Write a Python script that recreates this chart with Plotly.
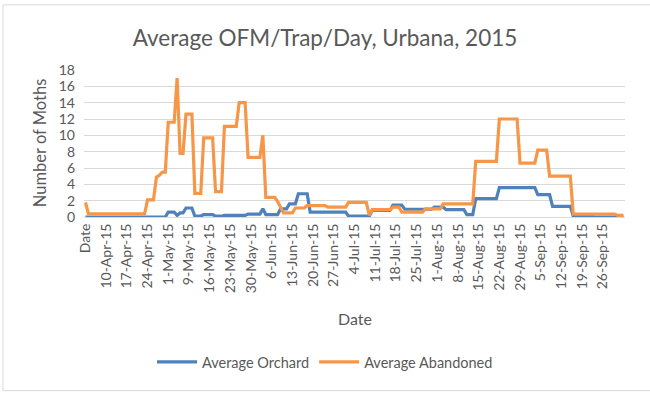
import datetime as dt
import plotly.graph_objects as go

# Category axis: header "Date" followed by daily dates 4-Apr-15 .. 2-Oct-15
start = dt.date(2015, 4, 4)
n_days = 182
categories = ["Date"] + [
    (start + dt.timedelta(days=k)).strftime("%-d-%b-%y") for k in range(n_days)
]

tick_labels = ["Date", "10-Apr-15", "17-Apr-15", "24-Apr-15", "1-May-15", "9-May-15",
               "16-May-15", "23-May-15", "30-May-15", "6-Jun-15", "13-Jun-15",
               "20-Jun-15", "27-Jun-15", "4-Jul-15", "11-Jul-15", "18-Jul-15",
               "25-Jul-15", "1-Aug-15", "8-Aug-15", "15-Aug-15", "22-Aug-15",
               "29-Aug-15", "5-Sep-15", "12-Sep-15", "19-Sep-15", "26-Sep-15"]
tick_categories = ["Date", "10-Apr-15", "17-Apr-15", "24-Apr-15", "1-May-15", "8-May-15",
                   "15-May-15", "22-May-15", "29-May-15", "5-Jun-15", "12-Jun-15",
                   "19-Jun-15", "26-Jun-15", "3-Jul-15", "10-Jul-15", "17-Jul-15",
                   "24-Jul-15", "31-Jul-15", "7-Aug-15", "14-Aug-15", "21-Aug-15",
                   "28-Aug-15", "4-Sep-15", "11-Sep-15", "18-Sep-15", "25-Sep-15"]

# Average Orchard (one value per category)
orchard = [
    0, 0, 0, 0, 0, 0, 0, 0, 0, 0, 0, 0, 0, 0, 0, 0, 0, 0, 0, 0,
    0, 0, 0, 0, 0, 0, 0, 0, 0.6, 0.6, 0.6, 0.2, 0.5, 0.5, 1.1, 1.1, 1.1, 0.1, 0.1, 0.1,
    0.3, 0.3, 0.3, 0.3, 0.1, 0.1, 0.1, 0.2, 0.2, 0.2, 0.2, 0.2, 0.2, 0.2, 0.2, 0.35, 0.35, 0.35, 0.35, 0.35,
    1.0, 0.3, 0.3, 0.3, 0.3, 0.3, 1.0, 1.0, 1.0, 1.6, 1.6, 1.6, 2.85, 2.85, 2.85, 2.85, 0.6, 0.6, 0.6, 0.6,
    0.6, 0.6, 0.6, 0.6, 0.6, 0.6, 0.6, 0.6, 0.6, 0.1, 0.1, 0.1, 0.1, 0.1, 0.1, 0.1, 0.1, 0.8, 0.8, 0.8,
    0.8, 0.8, 0.8, 0.8, 1.45, 1.45, 1.45, 1.45, 0.95, 0.95, 0.95, 0.95, 0.95, 0.95, 0.95, 0.95, 0.95, 0.95, 1.2, 1.2,
    1.2, 1.2, 0.9, 0.9, 0.9, 0.9, 0.9, 0.9, 0.9, 0.3, 0.3, 0.3, 2.25, 2.25, 2.25, 2.25, 2.25, 2.25, 2.25, 2.25,
    3.6, 3.6, 3.6, 3.6, 3.6, 3.6, 3.6, 3.6, 3.6, 3.6, 3.6, 3.6, 3.6, 2.75, 2.75, 2.75, 2.75, 2.75, 1.3, 1.3,
    1.3, 1.3, 1.3, 1.3, 1.3, 0.1, 0.1, 0.1, 0.1, 0.1, 0.1, 0.1, 0, 0, 0, 0, 0, 0, 0, 0,
    0, 0, 0,
]

# Average Abandoned (one value per category)
abandoned = [
    1.8, 0.4, 0.4, 0.4, 0.4, 0.4, 0.4, 0.4, 0.4, 0.4, 0.4, 0.4, 0.4, 0.4, 0.4, 0.4, 0.4, 0.4, 0.4, 0.4,
    0.4, 2.1, 2.1, 2.1, 4.9, 5.1, 5.5, 5.5, 11.6, 11.6, 11.6, 17.0, 7.8, 7.8, 12.6, 12.6, 12.6, 2.9, 2.9, 2.9,
    9.7, 9.7, 9.7, 9.7, 3.1, 3.1, 3.1, 11.1, 11.1, 11.1, 11.1, 11.1, 14.0, 14.0, 14.0, 7.3, 7.3, 7.3, 7.3, 7.3,
    10.0, 2.4, 2.4, 2.4, 2.4, 1.9, 1.2, 0.5, 0.5, 0.5, 0.5, 1.1, 1.1, 1.1, 1.1, 1.4, 1.4, 1.4, 1.4, 1.4,
    1.4, 1.4, 1.2, 1.2, 1.2, 1.2, 1.2, 1.2, 1.2, 1.8, 1.8, 1.8, 1.8, 1.8, 1.8, 1.8, 0.2, 0.9, 0.9, 0.9,
    0.9, 0.9, 0.9, 0.9, 1.2, 1.2, 1.2, 0.6, 0.6, 0.6, 0.6, 0.6, 0.6, 0.6, 0.6, 1.0, 1.0, 1.0, 1.0, 1.0,
    1.0, 1.6, 1.6, 1.6, 1.6, 1.6, 1.6, 1.6, 1.6, 1.6, 1.6, 1.6, 6.8, 6.8, 6.8, 6.8, 6.8, 6.8, 6.8, 6.8,
    12.0, 12.0, 12.0, 12.0, 12.0, 12.0, 12.0, 6.6, 6.6, 6.6, 6.6, 6.6, 6.6, 8.2, 8.2, 8.2, 8.2, 5.0, 5.0, 5.0,
    5.0, 5.0, 5.0, 5.0, 5.0, 0.35, 0.35, 0.35, 0.35, 0.35, 0.35, 0.35, 0.35, 0.35, 0.35, 0.35, 0.35, 0.35, 0.35, 0.35,
    0.2, 0.2, 0.2,
]

FONT = "Lato"
GREY = "#595959"

fig = go.Figure()
fig.add_trace(go.Scatter(x=categories, y=orchard, mode="lines", name="Average Orchard",
                         line=dict(color="#4F81BD", width=3.2)))
fig.add_trace(go.Scatter(x=categories, y=abandoned, mode="lines", name="Average Abandoned",
                         line=dict(color="#F79646", width=3.2)))

fig.update_layout(
    width=650, height=395,
    margin=dict(l=84, r=25, t=70, b=178),
    paper_bgcolor="white", plot_bgcolor="white",
    font=dict(family=FONT, color=GREY),
    title=dict(text="Average OFM/Trap/Day, Urbana, 2015", x=0.5, xanchor="center",
               y=1 - 38 / 395, yanchor="middle", font=dict(size=22.5, color=GREY, family=FONT)),
    showlegend=True,
    legend=dict(orientation="h", x=0.5, xanchor="center", xref="container",
                y=1 - 362 / 395, yref="container", yanchor="middle",
                font=dict(size=14.5, color=GREY), itemwidth=40, traceorder="normal"),
    xaxis=dict(type="category", categoryorder="array", categoryarray=categories,
               tickmode="array", tickvals=tick_categories, ticktext=tick_labels,
               tickangle=-90, tickfont=dict(size=14, color=GREY),
               showgrid=False, showline=True, linecolor="#d9d9d9", ticks="",
               range=[-0.5, len(categories) - 0.5]),
    yaxis=dict(range=[0, 18], tickvals=list(range(0, 19, 2)),
               tickfont=dict(size=14, color=GREY), showgrid=True, gridcolor="#d9d9d9",
               zeroline=False, showline=False, ticks="", ticklabelstandoff=8),
    shapes=[dict(type="rect", xref="paper", yref="paper", x0=-81 / 541, x1=620 / 541,
                 y0=(216.7 - 390) / 146.7, y1=(216.7 - 5) / 146.7,
                 line=dict(color="#d9d9d9", width=1), fillcolor="rgba(0,0,0,0)")],
    annotations=[
        dict(text="Date", xref="paper", yref="paper", x=(355 - 84) / 541,
             y=(216.7 - 318) / 146.7, showarrow=False, xanchor="center", yanchor="middle",
             font=dict(size=16, color=GREY, family=FONT)),
        dict(text="Number of Moths", xref="paper", yref="paper", x=(40 - 84) / 541,
             y=(216.7 - 143) / 146.7, showarrow=False, textangle=-90,
             xanchor="center", yanchor="middle",
             font=dict(size=16.5, color=GREY, family=FONT)),
    ],
)

fig.write_html("out.html", config={"displayModeBar": False},
               post_script="document.body.style.margin='0';document.body.style.overflow='hidden';")
